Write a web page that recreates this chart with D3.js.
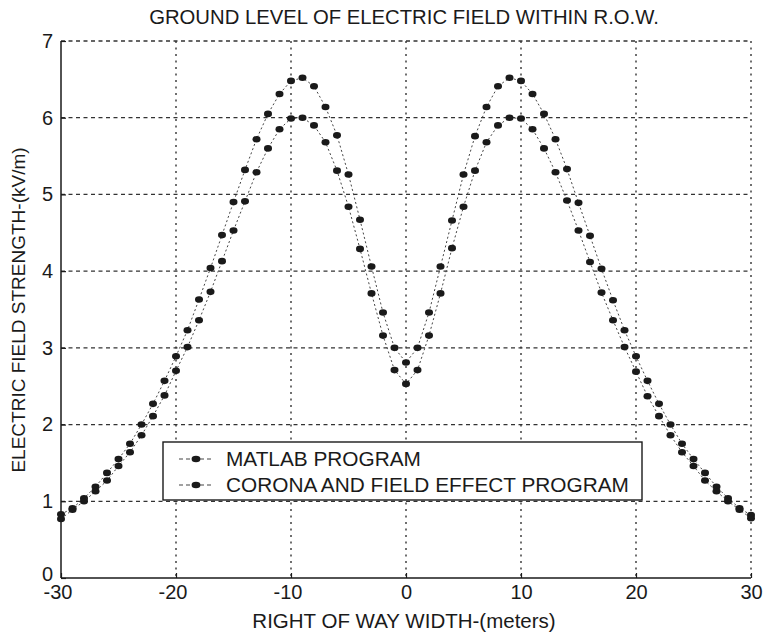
<!DOCTYPE html>
<html>
<head>
<meta charset="utf-8">
<script src="https://cdn.jsdelivr.net/npm/d3@7"></script>
<style>
  html, body { margin: 0; padding: 0; background: #fff; }
  svg { display: block; }
  text { font-family: "Liberation Sans", Arial, Helvetica, sans-serif; fill: #1a1a1a; }
</style>
</head>
<body>
<svg id="chart" width="764" height="638"></svg>
<script>
// ---- data ----
const title = "GROUND LEVEL OF ELECTRIC FIELD WITHIN R.O.W.";
const xLabel = "RIGHT OF WAY WIDTH-(meters)";
const yLabel = "ELECTRIC FIELD STRENGTH-(kV/m)";
const seriesNames = ["MATLAB PROGRAM", "CORONA AND FIELD EFFECT PROGRAM"];
const xTicks = [-30, -20, -10, 0, 10, 20, 30];
const yTicks = [0, 1, 2, 3, 4, 5, 6, 7];

const distance = [-30,-29,-28,-27,-26,-25,-24,-23,-22,-21,-20,-19,-18,-17,-16,-15,-14,-13,-12,-11,
  -10,-9,-8,-7,-6,-5,-4,-3,-2,-1,0,1,2,3,4,5,6,7,8,9,10,11,12,13,14,15,16,17,18,19,20,
  21,22,23,24,25,26,27,28,29,30];

const matlab = [0.83,0.91,1.04,1.19,1.37,1.55,1.75,2.00,2.27,2.57,2.89,3.23,3.63,4.04,4.47,4.90,5.32,5.72,6.05,6.31,
  6.48,6.52,6.41,6.14,5.77,5.26,4.67,4.06,3.46,3.00,2.81,3.00,3.46,4.06,4.66,5.26,5.76,6.14,6.41,6.52,6.48,
  6.31,6.05,5.72,5.33,4.89,4.46,4.03,3.62,3.23,2.89,2.57,2.27,2.00,1.75,1.55,1.37,1.19,1.04,0.91,0.82];

const corona = [0.77,0.89,1.00,1.13,1.27,1.46,1.64,1.86,2.11,2.38,2.70,3.01,3.36,3.73,4.13,4.53,4.91,5.29,5.60,5.85,
  5.99,6.00,5.90,5.68,5.31,4.84,4.29,3.71,3.16,2.71,2.53,2.71,3.16,3.71,4.30,4.84,5.31,5.68,5.90,6.00,5.99,
  5.85,5.60,5.29,4.92,4.53,4.12,3.72,3.36,3.01,2.69,2.37,2.11,1.86,1.64,1.46,1.27,1.13,1.00,0.89,0.78];

const series = [matlab, corona];

// ---- layout ----
const svg = d3.select("#chart");
const pL = 61, pR = 751, pT = 41, pB = 578;
const x = d3.scaleLinear().domain([-30, 30]).range([pL, pR]);
const y = d3.scaleLinear().domain([0, 7]).range([pB, pT]);
const ink = "#1a1a1a";

// grid
const grid = svg.append("g");
grid.selectAll("line.h").data(yTicks.filter(d => d > 0)).join("line")
  .attr("x1", pL).attr("x2", pR)
  .attr("y1", d => y(d)).attr("y2", d => y(d))
  .attr("stroke", "#333").attr("stroke-width", 1.3).attr("stroke-dasharray", "4,3.5");
grid.selectAll("line.v").data(xTicks.filter(d => d > -30)).join("line")
  .attr("x1", d => x(d)).attr("x2", d => x(d))
  .attr("y1", pT).attr("y2", pB)
  .attr("stroke", "#333").attr("stroke-width", 1.4).attr("stroke-dasharray", "2,4.5");

// axes
const xAxis = d3.axisBottom(x).tickValues(xTicks).tickSize(-5).tickPadding(7).tickFormat(d => String(d));
const yAxis = d3.axisLeft(y).tickValues(yTicks).tickSize(-5).tickPadding(8).tickFormat(d => String(d));
const gx = svg.append("g").attr("transform", `translate(0,${pB})`).call(xAxis);
const gy = svg.append("g").attr("transform", `translate(${pL},0)`).call(yAxis);
[gx, gy].forEach(g => {
  g.select(".domain").attr("stroke", ink).attr("stroke-width", 1.5);
  g.selectAll(".tick line").attr("stroke", ink).attr("stroke-width", 1.2);
  g.selectAll(".tick text").attr("font-size", 20).attr("fill", ink)
    .attr("font-family", '"Liberation Sans", Arial, sans-serif');
});
gx.selectAll(".tick text").attr("dx", d => d < 0 ? -3.5 : 0);
gy.selectAll(".tick text").filter(d => d === 0).attr("dy", "0.12em");
gx.select(".domain").attr("d", `M${pL},0H${pR}`);
gy.select(".domain").attr("d", `M0,${pB}V${pT}`);

// series
const line = d3.line().x((d, i) => x(distance[i])).y(d => y(d));
series.forEach(vals => {
  svg.append("path").datum(vals)
    .attr("d", line).attr("fill", "none")
    .attr("stroke", "#444").attr("stroke-width", 1).attr("stroke-dasharray", "2,2.5");
  svg.append("g").selectAll("ellipse").data(vals).join("ellipse")
    .attr("cx", (d, i) => x(distance[i])).attr("cy", d => y(d))
    .attr("rx", 4).attr("ry", 3.3).attr("fill", ink);
});

// legend
const lg = svg.append("g");
lg.append("rect").attr("x", 163).attr("y", 442).attr("width", 479).attr("height", 58)
  .attr("fill", "#fff").attr("stroke", ink).attr("stroke-width", 1.4);
seriesNames.forEach((name, i) => {
  const yy = 459 + i * 26;
  lg.append("line").attr("x1", 179).attr("x2", 214).attr("y1", yy).attr("y2", yy)
    .attr("stroke", "#444").attr("stroke-width", 1.2).attr("stroke-dasharray", "4,3");
  lg.append("ellipse").attr("cx", 196).attr("cy", yy).attr("rx", 4.4).attr("ry", 3.2).attr("fill", ink);
  lg.append("text").attr("x", 226).attr("y", yy + 7).attr("font-size", 20.8).text(name);
});

// titles
svg.append("text").attr("x", 404).attr("y", 24).attr("text-anchor", "middle")
  .attr("font-size", 20.3).text(title);
svg.append("text").attr("x", 404).attr("y", 628).attr("text-anchor", "middle")
  .attr("font-size", 20.5).text(xLabel);
svg.append("text").attr("transform", "translate(25,310) rotate(-90)").attr("text-anchor", "middle")
  .attr("font-size", 19).text(yLabel);
</script>
</body>
</html>
